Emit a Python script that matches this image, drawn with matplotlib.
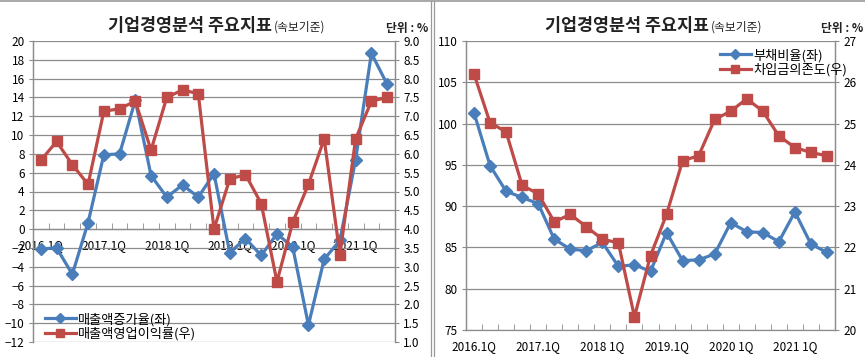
import matplotlib
matplotlib.use('Agg')
import matplotlib.pyplot as plt
from matplotlib.lines import Line2D

plt.rcParams['font.family'] = ['Noto Sans CJK KR', 'DejaVu Sans']

# 2016 1Q ~ 2021 3Q (23 quarters)
quarters = list(range(23))
tick_pos = [0, 4, 8, 12, 16, 20]
tick_labels = ['2016.1Q', '2017.1Q', '2018 1Q', '2019.1Q', '2020 1Q', '2021 1Q']

# left chart
sales_growth = [-2.1, -2.0, -4.8, 0.7, 7.9, 8.0, 13.7, 5.7, 3.4, 4.7, 3.4, 5.9,
                -2.5, -1.0, -2.8, -0.5, -1.9, -10.2, -3.2, -1.2, 7.4, 18.7, 15.4]
op_margin = [5.83, 6.33, 5.71, 5.19, 7.13, 7.2, 7.4, 6.1, 7.5, 7.7, 7.6, 4.0,
             5.33, 5.45, 4.68, 2.6, 4.18, 5.19, 6.4, 3.32, 6.4, 7.4, 7.5]

# right chart
debt_ratio = [101.3, 94.9, 91.8, 91.05, 90.3, 86.0, 84.8, 84.6, 85.6, 82.7, 82.9, 82.1,
              86.8, 83.4, 83.5, 84.2, 88.0, 86.9, 86.8, 85.7, 89.3, 85.4, 84.4]
borrow_dep = [26.2, 25.02, 24.8, 23.5, 23.3, 22.62, 22.8, 22.5, 22.2, 22.11, 20.32, 21.8,
              22.8, 24.1, 24.22, 25.1, 25.3, 25.6, 25.3, 24.7, 24.42, 24.3, 24.22]

BLUE = '#4A7EBB'
RED = '#BE4B48'
GRID = '#8C8C8C'
W, H = 865, 357

fig = plt.figure(figsize=(W / 100, H / 100), dpi=100)


def px_axes(x0, x1, ytop, ybot):
    return fig.add_axes([x0 / W, 1 - ybot / H, (x1 - x0) / W, (ybot - ytop) / H])


def style_axes(ax, ax2, zero_axis):
    ax.set_xlim(-0.5, 22.5)
    ax.spines['top'].set_visible(False)
    ax2.spines['top'].set_visible(False)
    for a in (ax, ax2):
        for sp in ['left', 'right', 'bottom']:
            a.spines[sp].set_color(GRID)
            a.spines[sp].set_linewidth(0.9)
    ax2.spines['bottom'].set_visible(False)
    if zero_axis:
        ax.spines['bottom'].set_position(('data', 0))
    ax.yaxis.grid(True, color=GRID, linewidth=0.9)
    ax.set_axisbelow(True)
    ax.tick_params(axis='y', length=3, color=GRID, labelsize=8.5, pad=3)
    ax2.tick_params(axis='y', length=3, color=GRID, labelsize=8.5, pad=3)
    ax.set_xticks(tick_pos)
    ax.set_xticklabels(tick_labels)
    ax.set_xticks([i - 0.5 for i in range(24)], minor=True)
    ax.tick_params(axis='x', which='major', length=0, labelsize=8.5, pad=7)
    ax.tick_params(axis='x', which='minor', direction='in', length=4, color=GRID)


# ---------- left chart ----------
ax1 = px_axes(33, 395, 41, 342)
ax1b = ax1.twinx()
ax1.plot(quarters, sales_growth, color=BLUE, lw=2.3, marker='D', ms=6, zorder=3)
ax1b.plot(quarters, op_margin, color=RED, lw=2.3, marker='s', ms=6.5, zorder=3)
ax1.set_ylim(-12, 20)
ax1.set_yticks(range(-12, 21, 2))
ax1b.set_ylim(1, 9)
ax1b.set_yticks([1 + 0.5 * i for i in range(17)])
ax1b.set_yticklabels(['%.1f' % (1 + 0.5 * i) for i in range(17)])
style_axes(ax1, ax1b, True)

h1 = [Line2D([], [], color=BLUE, lw=2.3, marker='D', ms=5),
      Line2D([], [], color=RED, lw=2.3, marker='s', ms=5.5)]
fig.legend(h1, ['매출액증가율(좌)', '매출액영업이익률(우)'], loc='upper left',
           bbox_to_anchor=(38 / W, 1 - 306 / H), frameon=False, fontsize=9.5,
           handlelength=2.4, handletextpad=0.15, labelspacing=0.05, borderpad=0)

# ---------- right chart ----------
ax2 = px_axes(466, 835, 41, 330)
ax2b = ax2.twinx()
ax2.plot(quarters, debt_ratio, color=BLUE, lw=2.3, marker='D', ms=6, zorder=3)
ax2b.plot(quarters, borrow_dep, color=RED, lw=2.3, marker='s', ms=6.5, zorder=3)
ax2.set_ylim(75, 110)
ax2.set_yticks(range(75, 111, 5))
ax2b.set_ylim(20, 27)
ax2b.set_yticks(range(20, 28))
style_axes(ax2, ax2b, False)

h2 = [Line2D([], [], color=BLUE, lw=2.3, marker='D', ms=5),
      Line2D([], [], color=RED, lw=2.3, marker='s', ms=5.5)]
fig.legend(h2, ['부채비율(좌)', '차입금의존도(우)'], loc='upper left',
           bbox_to_anchor=(713 / W, 1 - 42 / H), frameon=False, fontsize=9.5,
           handlelength=2.4, handletextpad=0.15, labelspacing=0.05, borderpad=0)

# ---------- titles ----------
renderer = fig.canvas.get_renderer()
for tx, ux in [(108, 386), (545, 821)]:
    t = fig.text(tx / W, 1 - 31 / H, '기업경영분석 주요지표', fontsize=12.5,
                 fontweight='bold', ha='left', va='baseline', color='#222222')
    bb = t.get_window_extent(renderer)
    fig.text((bb.x1 + 2) / W, 1 - 31 / H, '(속보기준)', fontsize=8.5, ha='left',
             va='baseline', color='#222222')
    fig.text(ux / W, 1 - 32 / H, '단위 : %', fontsize=8.5, fontweight='bold',
             ha='left', va='baseline', color='#222222')

# panel frames
fig.add_artist(Line2D([0, 1], [1 - 1 / H, 1 - 1 / H], color='#999999', lw=1.2))
for x in (431, 433.5):
    fig.add_artist(Line2D([x / W, x / W], [0, 1 - 1 / H], color='#999999', lw=0.9))

fig.savefig('out.png', dpi=100)
plt.close(fig)
